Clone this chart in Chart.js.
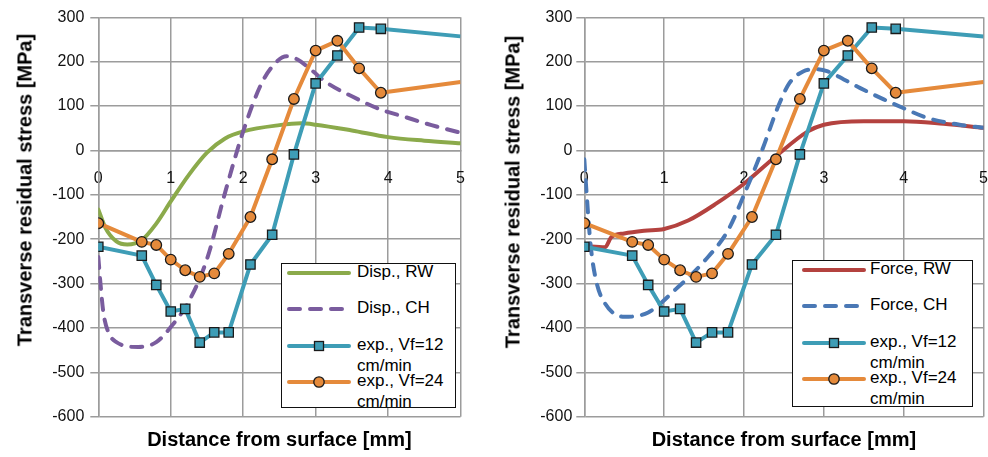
<!DOCTYPE html>
<html>
<head>
<meta charset="utf-8">
<title>Transverse residual stress</title>
<script src="https://cdn.jsdelivr.net/npm/chart.js@4.4.1/dist/chart.umd.min.js"></script>
<style>
  body { margin: 0; background: #fff; font-family: 'Liberation Sans', Arial, sans-serif; }
  #page { position: relative; width: 988px; height: 457px; overflow: hidden; }
  canvas { position: absolute; top: 0; }
  .ytitle { position: absolute; font-weight: bold; font-size: 20px; color: #000; white-space: nowrap;
            transform: translate(-50%, -50%) rotate(-90deg); }
  .legend { position: absolute; background: #fff; border: 1.5px solid #111; box-sizing: border-box; overflow: hidden; }
  .legend svg { position: absolute; }
  .legend span { position: absolute; font-size: 17px; line-height: 20px; white-space: nowrap; color: #000; }
</style>
</head>
<body>
<div id="page">
  <canvas id="leftChart" width="484" height="457" style="left:0"></canvas>
  <canvas id="rightChart" width="520" height="457" style="left:487px"></canvas>
  <div class="ytitle" style="left:25px; top:190px">Transverse residual stress [MPa]</div>
  <div class="ytitle" style="left:513px; top:192px">Transverse residual stress [MPa]</div>
  <div class="legend" id="leftLegend" style="left:281px; top:263px; width:175px; height:145px"></div>
  <div class="legend" id="rightLegend" style="left:792px; top:260px; width:181px; height:147px"></div>
</div>
<script>
// ---------------------------------------------------------
// data (depth in mm, stress in MPa)
// ---------------------------------------------------------
const depthExp   = [0, 0.6, 0.8, 1.0, 1.2, 1.4, 1.6, 1.8, 2.1, 2.4, 2.7, 3.0, 3.3, 3.6, 3.9, 5.0];
const stressVf12 = [-217, -237, -303, -363, -357, -433, -410, -410, -257, -190, -9, 151, 214, 277, 274, 257];
const stressVf24 = [-164, -206, -213, -246, -270, -285, -277, -233, -150, -20, 116, 225, 247, 185, 130, 154];

const dispRwDepth  = [0, 0.1, 0.25, 0.4, 0.6, 0.8, 1.0, 1.25, 1.5, 1.75, 2.0, 2.5, 2.8, 3.0, 3.5, 4.0, 4.5, 5.0];
const dispRwStress = [-133, -175, -205, -212, -202, -165, -115, -55, -5, 27, 43, 57, 61, 58, 45, 30, 22, 16];

const dispChDepth  = [0, 0.03, 0.07, 0.14, 0.25, 0.55, 0.8, 1.0, 1.25, 1.5, 1.75, 2.0, 2.25, 2.45, 2.6, 2.75, 2.95, 3.15, 3.5, 3.9, 4.2, 4.6, 5.0];
const dispChStress = [-240, -300, -365, -410, -432, -443, -432, -398, -340, -245, -95, 43, 150, 198, 212, 205, 180, 153, 122, 92, 77, 57, 40];

const forceRwDepth  = [0, 0.26, 0.34, 0.5, 0.75, 1.0, 1.3, 1.65, 2.0, 2.4, 2.8, 3.0, 3.5, 4.0, 4.5, 5.0];
const forceRwStress = [-215, -218, -195, -187, -181, -177, -158, -120, -75, -13, 43, 58, 66, 66, 60, 51];

const forceChDepth  = [0, 0.03, 0.08, 0.15, 0.26, 0.5, 0.8, 1.15, 1.5, 1.8, 2.0, 2.23, 2.43, 2.57, 2.74, 2.9, 3.05, 3.25, 3.45, 3.75, 4.0, 4.3, 4.7, 5.0];
const forceChStress = [-20, -100, -215, -295, -345, -375, -365, -312, -250, -180, -100, 2, 100, 152, 178, 183, 178, 160, 141, 115, 95, 73, 58, 51];

const xMin = 0, xMax = 5, xStep = 1;
const yMin = -600, yMax = 300, yStep = 100;

// colours
const TEAL = '#3e9db6';
const ORANGE = '#e58a3b';
const GREEN = '#8baa4b';
const PURPLE = '#7a5c9e';
const RED = '#b4423f';
const BLUE = '#4a78b5';
const GRID = '#9c9c9c';
const DASH = [11, 10];

Chart.defaults.font.family = "'Liberation Sans', Arial, sans-serif";

const pts = (xs, ys) => xs.map((x, i) => ({ x: x, y: ys[i] }));
// last experimental point only carries the line to the frame, no marker
const markerSize = (size) => (c) => (c.raw && c.raw.x >= xMax ? 0 : size);

function expDatasets() {
    return [
        {
            label: 'exp., Vf=24 cm/min',
            data: pts(depthExp, stressVf24),
            borderColor: ORANGE, backgroundColor: ORANGE,
            borderWidth: 4, tension: 0, borderJoinStyle: 'round',
            pointStyle: 'circle', pointRadius: markerSize(5.3),
            pointBackgroundColor: ORANGE, pointBorderColor: '#1a1a1a', pointBorderWidth: 1.3
        },
        {
            label: 'exp., Vf=12 cm/min',
            data: pts(depthExp, stressVf12),
            borderColor: TEAL, backgroundColor: TEAL,
            borderWidth: 4, tension: 0, borderJoinStyle: 'round',
            pointStyle: 'rect', pointRadius: markerSize(6.6),
            pointBackgroundColor: TEAL, pointBorderColor: '#1a1a1a', pointBorderWidth: 1.3
        }
    ];
}

function simDataset(label, xs, ys, color, dashed) {
    return {
        label: label,
        data: pts(xs, ys),
        borderColor: color, backgroundColor: color,
        borderWidth: 4,
        borderDash: dashed ? DASH : [],
        borderCapStyle: 'round',
        cubicInterpolationMode: 'monotone',
        pointRadius: 0
    };
}

function createChart(id, datasets, yWidth, padRight, tickPad) {
    const ctx = document.getElementById(id).getContext('2d');
    return new Chart(ctx, {
        type: 'line',
        data: { datasets: datasets },
        options: {
            responsive: false,
            animation: false,
            events: [],
            layout: { padding: { top: 17.3, right: padRight, left: 0, bottom: 0 } },
            plugins: { legend: { display: false }, tooltip: { enabled: false } },
            scales: {
                x: {
                    type: 'linear', position: { y: 0 }, min: xMin, max: xMax,
                    ticks: { stepSize: xStep, padding: 19, color: '#111', font: { size: 16 } },
                    grid: { color: GRID, lineWidth: 1.5, drawTicks: false },
                    border: { color: GRID, width: 1.5 }
                },
                x2: {
                    type: 'linear', position: 'bottom', min: xMin, max: xMax,
                    ticks: { display: false },
                    grid: { display: false, drawTicks: false },
                    border: { display: false },
                    title: {
                        display: true, text: 'Distance from surface [mm]', color: '#000',
                        font: { size: 20, weight: 'bold' }, padding: { top: 0, bottom: 5 }
                    },
                    afterFit: (s) => { s.height = 40.3; }
                },
                y: {
                    type: 'linear', position: 'left', min: yMin, max: yMax,
                    ticks: { stepSize: yStep, padding: tickPad, color: '#111', font: { size: 16 } },
                    grid: { color: GRID, lineWidth: 1.5, tickLength: 8 },
                    border: { color: GRID, width: 1.5 },
                    afterFit: (s) => { s.width = yWidth; }
                }
            }
        }
    });
}

// ---------------------------------------------------------
// legend boxes (drawn as HTML so the text stays text)
// ---------------------------------------------------------
function symbolSvg(item) {
    let s = '<svg width="64" height="14" viewBox="0 0 64 14">';
    s += `<line x1="2" y1="7" x2="62" y2="7" stroke="${item.color}" stroke-width="4" stroke-linecap="round"` +
         (item.dashed ? ` stroke-dasharray="${DASH.join(' ')}"` : '') + '/>';
    if (item.marker === 'rect') {
        s += `<rect x="27.5" y="2.5" width="9" height="9" fill="${item.color}" stroke="#1a1a1a" stroke-width="1.3"/>`;
    } else if (item.marker === 'circle') {
        s += `<circle cx="32" cy="7" r="5.2" fill="${item.color}" stroke="#1a1a1a" stroke-width="1.3"/>`;
    }
    return s + '</svg>';
}

function renderLegend(elementId, items, symbolLeft, textLeft) {
    const box = document.getElementById(elementId);
    box.innerHTML = items.map((item, i) => {
        const cy = 8.6 + i * 36.5;
        const lines = item.lines.map((t, k) =>
            `<span style="left:${textLeft}px; top:${cy - 11 + k * 21}px">${t}</span>`).join('');
        return `<div style="position:absolute; left:${symbolLeft}px; top:${cy - 7}px">${symbolSvg(item)}</div>` + lines;
    }).join('');
}

const expLegend = [
    { lines: ['exp., Vf=12', 'cm/min'], color: TEAL, marker: 'rect' },
    { lines: ['exp., Vf=24', 'cm/min'], color: ORANGE, marker: 'circle' }
];

// Displacement model (left)
createChart('leftChart', [
    ...expDatasets(),
    simDataset('Disp., CH', dispChDepth, dispChStress, PURPLE, true),
    simDataset('Disp., RW', dispRwDepth, dispRwStress, GREEN, false)
], 98.3, 0, 6);

renderLegend('leftLegend', [
    { lines: ['Disp., RW'], color: GREEN },
    { lines: ['Disp., CH'], color: PURPLE, dashed: true },
    ...expLegend
], 5, 75);

// Force model (right)
createChart('rightChart', [
    ...expDatasets(),
    simDataset('Force, CH', forceChDepth, forceChStress, BLUE, true),
    simDataset('Force, RW', forceRwDepth, forceRwStress, RED, false)
], 97.3, 0, 4);

renderLegend('rightLegend', [
    { lines: ['Force, RW'], color: RED },
    { lines: ['Force, CH'], color: BLUE, dashed: true },
    ...expLegend
], 9, 77);
</script>
</body>
</html>
